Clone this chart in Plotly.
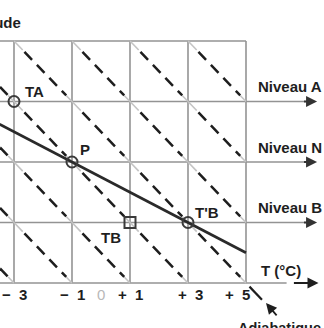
import plotly.graph_objects as go

# Temperature grid (°C) and altitude levels
temps = [-3, -1, 1, 3, 5]
temp_labels = ["−\u00a0\u00a03", "−\u00a0\u00a01", "+\u00a0\u00a01", "+\u00a0\u00a03", "+\u00a0\u00a05"]
levels = [0, 1, 2, 3, 4]
level_names = ["Niveau B", "Niveau N", "Niveau A"]
level_values = [1, 2, 3]

# Air-parcel states
point_names = ["TA", "P", "TB", "T'B"]
point_t = [-3, -1, 1, 3]
point_z = [3, 2, 1, 1]
point_symbols = ["circle-open", "circle-open", "square-open", "circle-open"]

# Environmental temperature profile
curve_t = [-3.5, -1, 3, 5]
curve_z = [2.625, 2, 1, 0.5]

# Dry adiabat: °C gained per level of descent
adiabat_step = 2

# --- layout geometry (pixel -> data) ---
W, H = 324, 328
PX_PER_DEG = 29.0
PX_PER_LEVEL = 60.5
X0 = -3 - 14 / PX_PER_DEG
X1 = X0 + W / PX_PER_DEG
Y1 = 283 / PX_PER_LEVEL
Y0 = Y1 - H / PX_PER_LEVEL

GRID = "#939393"
INK = "#1e1e1e"
FONT = "Liberation Sans"

fig = go.Figure()


def seg(xs, ys, color, width, dash="solid"):
    fig.add_trace(go.Scatter(x=xs, y=ys, mode="lines",
                             line=dict(color=color, width=width, dash=dash),
                             hoverinfo="skip", showlegend=False))


# grid: vertical lines
for t in temps:
    seg([t, t], [levels[0], levels[-1]], GRID, 1.6)
# grid: horizontal lines
seg([X0, temps[-1]], [levels[-1]] * 2, GRID, 1.6)
for z in level_values:
    seg([X0, 7.05], [z, z], GRID, 1.6)
seg([X0, 6.4], [levels[0]] * 2, GRID, 1.6)

# dry adiabats, one per grid cell (top-left corner -> bottom-right corner)
cell_left = [temps[0] - adiabat_step] + temps[:-1]
for xl in cell_left:
    for zb in levels[:-1]:
        xa, za = xl, zb + 1
        xb, zb2 = xl + adiabat_step, zb

        def pt(f):
            return xa + (xb - xa) * f, za + (zb2 - za) * f

        f_min = max(0.0, (X0 - xa) / (xb - xa))
        g0, g1 = pt(f_min), pt(max(f_min, 0.15))
        if f_min < 0.15:
            seg([g0[0], g1[0]], [g0[1], g1[1]], "#c4c4c4", 1.6)
        e0, e1 = pt(0.9), pt(1.0)
        seg([e0[0], e1[0]], [e0[1], e1[1]], "#c4c4c4", 1.6)
        d0, d1 = pt(max(f_min, 0.18)), pt(0.9)
        seg([d0[0], d1[0]], [d0[1], d1[1]], INK, 2.5, "11px,7px")

# adiabat continuing past the lower-right corner
x_ext = temps[-1] + 0.55
seg([temps[-1] + 0.12, x_ext],
    [-(0.12) / adiabat_step, -(x_ext - temps[-1]) / adiabat_step], INK, 2.2)

# environmental profile
fig.add_trace(go.Scatter(x=curve_t, y=curve_z, mode="lines",
                         line=dict(color="#2a2a2a", width=2.8),
                         hoverinfo="skip", showlegend=False))

# parcel states
fig.add_trace(go.Scatter(x=point_t, y=point_z, mode="markers",
                         marker=dict(symbol=point_symbols, size=11,
                                     color="#3a3a3a",
                                     line=dict(width=2, color="#3a3a3a")),
                         hoverinfo="skip", showlegend=False))

txt = dict(family=FONT, size=15, color=INK, weight=700)
label_offsets = [(0.72, 0.17), (0.45, 0.21), (-0.65, -0.24), (0.66, 0.17)]
for name, t, z, (dx, dz) in zip(point_names, point_t, point_z, label_offsets):
    fig.add_annotation(x=t + dx, y=z + dz, text=name, showarrow=False,
                       font=txt, xanchor="center", yanchor="middle")

# level labels and arrows
for name, z in zip(level_names, level_values):
    fig.add_annotation(x=5.35, y=z + 0.24, text=name, showarrow=False,
                       font=txt, xanchor="left", yanchor="middle")
    fig.add_annotation(x=7.45, y=z, ax=6.95, ay=z, axref="x", ayref="y",
                       xref="x", yref="y", text="", showarrow=True,
                       arrowhead=2, arrowsize=1.1, arrowwidth=2,
                       arrowcolor="#333333")

# temperature axis
fig.add_annotation(x=7.5, y=0.0, ax=6.6, ay=0.0, axref="x", ayref="y",
                   text="", showarrow=True, arrowhead=2, arrowsize=1.1,
                   arrowwidth=2, arrowcolor=INK)
fig.add_annotation(x=5.45, y=0.2, text="T (°C)", showarrow=False,
                   font=txt, xanchor="left", yanchor="middle")
tick_shift = [0.0, 0.0, 0.0, 0.1, -0.3]
for t, lab, s in zip(temps, temp_labels, tick_shift):
    fig.add_annotation(x=t + s, y=-0.19, text=lab, showarrow=False,
                       font=txt, xanchor="center", yanchor="middle")
fig.add_annotation(x=0, y=-0.19, text="0", showarrow=False,
                   font=dict(family=FONT, size=15, color="#b8b8b8"),
                   xanchor="center", yanchor="middle")

# altitude axis title
fig.add_annotation(x=-2.69, y=4.3, text="Altitude", showarrow=False,
                   font=txt, xanchor="right", yanchor="middle")

# adiabat callout
fig.add_annotation(x=5.69, y=-0.33, ax=6.1, ay=-0.56, axref="x", ayref="y",
                   text="", showarrow=True, arrowhead=2, arrowsize=1.2,
                   arrowwidth=1.8, arrowcolor=INK)
fig.add_annotation(x=6.15, y=-0.58, text="Adiabatique", showarrow=False,
                   font=dict(family=FONT, size=14.5, color=INK, weight=700),
                   xanchor="center", yanchor="top")

fig.update_layout(
    width=W, height=H,
    margin=dict(l=0, r=0, t=0, b=0),
    paper_bgcolor="white", plot_bgcolor="white",
    xaxis=dict(range=[X0, X1], visible=False, fixedrange=True),
    yaxis=dict(range=[Y0, Y1], visible=False, fixedrange=True),
    showlegend=False,
)

fig.write_html("out.html")
